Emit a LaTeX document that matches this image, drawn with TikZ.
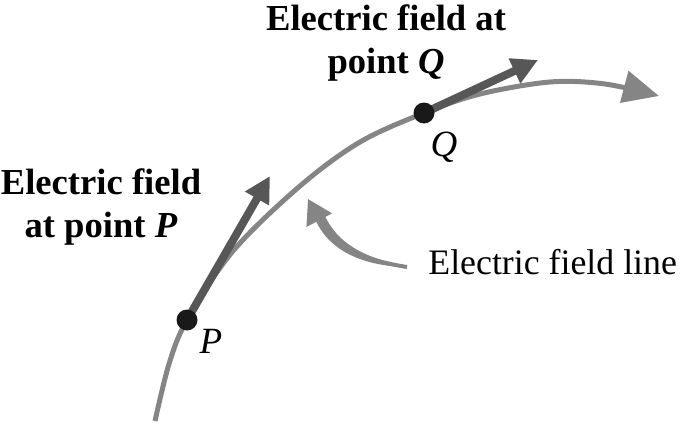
\documentclass[tikz,border=0pt]{standalone}
\usepackage{fontspec}
\setmainfont{Liberation Serif}
\usetikzlibrary{arrows.meta}
\definecolor{fieldgray}{HTML}{858585}
\definecolor{vecgray}{HTML}{575757}
\tikzset{
  fieldline/.style={draw=fieldgray, line width=2.5pt, -{Triangle[length=18pt,width=16pt]}},
  evec/.style={draw=vecgray, fill=vecgray, line width=4pt, -{Triangle[length=13pt,width=13pt]}},
  ptr/.style={draw=fieldgray, line width=2pt, -{Triangle[length=12pt,width=14pt]}},
  chargedot/.style={circle, fill=black!90, inner sep=0pt, minimum size=10.5pt},
  boldlabel/.style={font=\fontsize{18.3}{21.5}\selectfont\bfseries, align=center, inner sep=0pt, anchor=north},
  ptlabel/.style={font=\fontsize{18.5}{22}\selectfont\itshape, inner sep=0pt, anchor=base},
  linelabel/.style={font=\fontsize{17.9}{21}\selectfont, inner sep=0pt, anchor=base west}
}
\begin{document}
\begin{tikzpicture}[x=0.5pt, y=0.5pt]
\useasboundingbox (0,0) rectangle (685,-428);
\coordinate (P) at (187,-320);
\coordinate (Q) at (424,-113);
\coordinate (Ptip) at (270,-176);
\coordinate (Qtip) at (538,-60);
% field line
\draw[fieldline] plot[smooth, tension=0.55] coordinates {(155,-421) (169,-364) (P) (233,-251) (300,-186) (360,-142) (Q) (480,-94) (550,-82) (605,-84) (659,-96)};
% field vectors
\draw[evec] (P) -- (Ptip);
\draw[evec] (Q) -- (Qtip);
% dots
\node[chargedot] (Pdot) at (P) {};
\node[chargedot] (Qdot) at (Q) {};
% point labels
\node[ptlabel] (Plab) at (211,-353) {P};
\node[ptlabel] (Qlab) at (444,-156) {Q};
% text labels
\node[boldlabel] (Qtext) at (386,-4) {Electric field at\\point \textit{Q}};
\node[boldlabel] (Ptext) at (101,-168) {Electric field\\at point \textit{P}};
\node[linelabel] (FLtext) at (428,-274) {Electric field line};
% pointer (tapered shaft + connector)
\coordinate (ptail) at (407,-267);
\coordinate (ptip) at (308,-199);
\fill[fieldgray] (ptail) .. controls (362,-257) and (337,-243) .. (324,-214) -- (315,-219) .. controls (328,-249) and (360,-266) .. (ptail) -- cycle;
\draw[ptr] (ptail) .. controls (362,-260) and (333,-246) .. (ptip);
\end{tikzpicture}
\end{document}
